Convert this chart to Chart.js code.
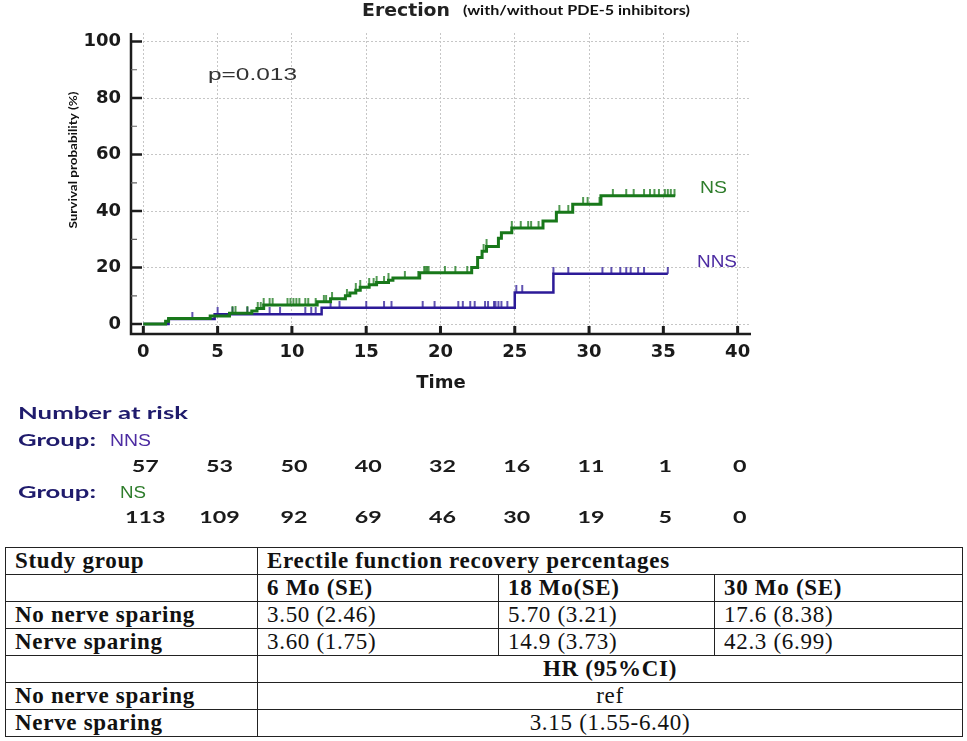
<!DOCTYPE html>
<html>
<head>
<meta charset="utf-8">
<title>Erection (with/without PDE-5 inhibitors)</title>
<script src="https://cdn.jsdelivr.net/npm/chart.js@4.4.1/dist/chart.umd.min.js"></script>
<style>
  body { margin: 0; background: #fff; width: 967px; height: 741px; overflow: hidden; position: relative; }
  #km { position: absolute; left: 0; top: 0; }
  #stats {
    position: absolute; left: 5px; top: 547px; width: 957px;
    border-collapse: collapse; table-layout: fixed;
    font-family: "Liberation Serif", "DejaVu Serif", serif; font-size: 23px; letter-spacing: 0.7px; color: #111;
  }
  #stats tr { height: 27px; }
  #stats td, #stats th { border: 1px solid #222; padding: 0 9px; white-space: nowrap; text-align: left; line-height: 24px; }
  #stats th { font-weight: bold; }
  #stats td { font-weight: normal; }
  #stats .c { text-align: center; }
</style>
</head>
<body>
<canvas id="km" width="967" height="540"></canvas>
<table id="stats"></table>
<script>
// axis ticks
const xTicks = [0, 5, 10, 15, 20, 25, 30, 35, 40];
const yTicks = [0, 20, 40, 60, 80, 100];
const yMinorTicks = [10, 30, 50, 70, 90];

// NS (nerve sparing) - step times and cumulative recovery (%)
const nsTimes = [0, 1.5, 1.7, 4.5, 5.8, 7.3, 7.65, 8.1, 11.7, 12.6, 13.6, 13.9, 14.3, 14.6, 15.2, 15.7, 16.5, 16.8, 18.6,
  22.1, 22.5, 22.8, 23.1, 23.9, 24.1, 24.8, 26.9, 27.8, 28.9, 30.8, 35.8];
const nsValues = [0, 1.0, 2.0, 2.9, 3.8, 4.6, 5.5, 6.8, 7.9, 9.0, 10.0, 11.0, 12.0, 13.0, 13.9, 14.7, 15.5, 16.3, 18.2,
  20.0, 23.6, 25.8, 27.5, 30.4, 32.3, 34.0, 36.5, 39.6, 42.4, 45.4, 45.4];
const nsCensored = [6.0, 6.2, 7.0, 7.7, 7.9, 8.1, 8.5, 8.7, 9.7, 9.9, 10.1, 10.3, 10.5, 10.9, 11.1, 11.6, 12.15, 12.3, 12.7,
  13.7, 14.3, 14.6, 15.2, 15.5, 15.7, 16.2, 16.5, 17.6, 18.5, 18.9, 19.0, 19.1, 19.2, 20.3, 21.0, 21.8, 22.9, 23.1,
  24.8, 25.4, 25.9, 26.1, 26.6, 28.0, 28.6, 29.6, 29.9, 30.7, 31.6, 32.5, 33.0, 33.7, 34.1, 34.4, 34.7, 35.1, 35.3, 35.5, 35.75];

// NNS (no nerve sparing)
const nnsTimes = [0, 1.7, 4.8, 12.0, 25.0, 27.6, 35.3];
const nnsValues = [0, 1.8, 3.5, 5.8, 11.2, 17.8, 17.8];
const nnsCensored = [3.3, 5.0, 6.0, 7.0, 8.5, 9.2, 10.9, 11.3, 11.6, 12.6, 13.2, 15.0, 16.2, 16.7, 18.8, 19.6,
  21.2, 21.5, 22.0, 22.3, 23.0, 23.2, 23.6, 23.7, 23.9, 24.1, 24.5, 25.1, 25.5, 27.6, 28.6,
  30.9, 31.5, 32.1, 32.5, 32.8, 33.3, 33.7, 35.3];

// number at risk at each x tick
const nnsAtRisk = [57, 53, 50, 40, 32, 16, 11, 1, 0];
const nsAtRisk = [113, 109, 92, 69, 46, 30, 19, 5, 0];

// table below the plot
const tableGroups = ["No nerve sparing", "Nerve sparing"];
const tableMonths = ["6 Mo (SE)", "18 Mo(SE)", "30 Mo (SE)"];
const nnsRecovery = ["3.50 (2.46)", "5.70 (3.21)", "17.6 (8.38)"];
const nsRecovery = ["3.60 (1.75)", "14.9 (3.73)", "42.3 (6.99)"];
const hazardRatios = ["ref", "3.15 (1.55-6.40)"];

const NS_COLOR = "#18781a";
const NNS_COLOR = "#2c1a98";
const NS_TEXT = "#2f7d2c";
const NNS_TEXT = "#4d2ca2";
const NAVY = "#1f1b6c";

function curvePoints(times, values) {
  return times.map((t, i) => ({ x: t, y: values[i] }));
}

function valueAt(times, values, t) {
  let v = values[0];
  times.forEach((tt, i) => { if (tt <= t) v = values[i]; });
  return v;
}

function censorPoints(times, values, censored) {
  return censored.map(t => ({ x: t, y: valueAt(times, values, t) }));
}

// small upward tick used as the censor mark
function censorMark(color) {
  const c = document.createElement("canvas");
  c.width = 4;
  c.height = 14;
  const g = c.getContext("2d");
  g.strokeStyle = color;
  g.lineWidth = 1.5;
  g.beginPath();
  g.moveTo(2, 0);
  g.lineTo(2, 7);
  g.stroke();
  return c;
}

// text fitted to a measured width (the original figure is stretched sideways)
function drawText(ctx, str, x, y, font, color, width, align = "left", rotate = 0) {
  ctx.save();
  ctx.font = font;
  ctx.fillStyle = color;
  ctx.textAlign = align;
  ctx.textBaseline = "middle";
  ctx.translate(x, y);
  if (rotate) ctx.rotate(rotate);
  if (width) ctx.scale(width / ctx.measureText(str).width, 1);
  ctx.fillText(str, 0, 0);
  ctx.restore();
}

const decorations = {
  id: "decorations",
  afterDraw(chart) {
    const { ctx, chartArea: a, scales: { x, y } } = chart;
    ctx.save();
    ctx.lineCap = "butt";

    // axes
    ctx.strokeStyle = "#1c1c1c";
    ctx.lineWidth = 2.5;
    ctx.beginPath();
    ctx.moveTo(a.left, a.top);
    ctx.lineTo(a.left, a.bottom);
    ctx.lineTo(a.right, a.bottom);
    ctx.stroke();

    // inner tick marks
    ctx.beginPath();
    yTicks.forEach(v => {
      const py = y.getPixelForValue(v);
      ctx.moveTo(a.left, py);
      ctx.lineTo(a.left + 11, py);
    });
    ctx.stroke();
    ctx.lineWidth = 3;
    ctx.beginPath();
    xTicks.forEach(v => {
      const px = x.getPixelForValue(v);
      ctx.moveTo(px, a.bottom);
      ctx.lineTo(px, a.bottom - 8);
    });
    ctx.stroke();
    ctx.strokeStyle = "#666";
    ctx.lineWidth = 1.2;
    ctx.beginPath();
    yMinorTicks.forEach(v => {
      const py = y.getPixelForValue(v);
      ctx.moveTo(a.left, py);
      ctx.lineTo(a.left + 6, py);
    });
    ctx.stroke();
    ctx.restore();

    // titles and labels
    drawText(ctx, "Erection", 362, 12, 'bold 17px "DejaVu Sans"', "#222", 88);
    drawText(ctx, "(with/without PDE-5 inhibitors)", 463, 11, "bold 13px Lato", "#111", 227);
    drawText(ctx, "Survival probability (%)", 73, 160, "bold 11px Lato", "#111", 137, "center", -Math.PI / 2);
    drawText(ctx, "p=0.013", 208, 75, '17px "Liberation Sans"', "#333", 89);
    drawText(ctx, "NS", 700, 188, '17px "Liberation Sans"', NS_TEXT, 27);
    drawText(ctx, "NNS", 697, 262, '17px "Liberation Sans"', NNS_TEXT, 40);

    // number at risk
    drawText(ctx, "Number at risk", 18, 414, "bold 17px Lato", NAVY, 170);
    drawText(ctx, "Group:", 18, 441, "bold 17px Lato", NAVY, 78);
    drawText(ctx, "NNS", 110, 442, '16px "Liberation Sans Narrow", "Liberation Sans"', NNS_TEXT, 41);
    drawText(ctx, "Group:", 18, 493, "bold 17px Lato", NAVY, 78);
    drawText(ctx, "NS", 120, 494, '16px "Liberation Sans Narrow", "Liberation Sans"', NS_TEXT, 26);
    xTicks.forEach((t, i) => {
      const px = x.getPixelForValue(t) + 2;
      const a1 = String(nnsAtRisk[i]);
      const a2 = String(nsAtRisk[i]);
      drawText(ctx, a1, px, 467, "bold 17px Lato", "#1a1a1a", a1.length * 13.5, "center");
      drawText(ctx, a2, px, 518, "bold 17px Lato", "#1a1a1a", a2.length * 13.5, "center");
    });
  }
};

const tickFont = { family: '"DejaVu Sans"', size: 18, weight: "bold" };

new Chart(document.getElementById("km"), {
  type: "line",
  data: {
    datasets: [
      {
        label: "NS",
        data: curvePoints(nsTimes, nsValues),
        borderColor: NS_COLOR,
        borderWidth: 3,
        stepped: true,
        pointRadius: 0,
        fill: false
      },
      {
        label: "NS censored",
        data: censorPoints(nsTimes, nsValues, nsCensored),
        showLine: false,
        pointStyle: censorMark(NS_COLOR),
        pointRadius: 3
      },
      {
        label: "NNS",
        data: curvePoints(nnsTimes, nnsValues),
        borderColor: NNS_COLOR,
        borderWidth: 2.5,
        stepped: true,
        pointRadius: 0,
        fill: false
      },
      {
        label: "NNS censored",
        data: censorPoints(nnsTimes, nnsValues, nnsCensored),
        showLine: false,
        pointStyle: censorMark(NNS_COLOR),
        pointRadius: 3
      }
    ]
  },
  options: {
    responsive: false,
    animation: false,
    layout: { padding: { left: 0, top: 33, right: 216, bottom: 140 } },
    plugins: {
      legend: { display: false },
      tooltip: { enabled: false }
    },
    scales: {
      x: {
        type: "linear",
        min: -0.83,
        max: 40.9,
        afterBuildTicks: s => { s.ticks = xTicks.map(v => ({ value: v })); },
        afterFit: s => { s.height = 66; },
        grid: { color: "#c6c6c6", lineWidth: 1, drawTicks: false },
        border: { display: false, dash: [2, 2] },
        ticks: { font: tickFont, color: "#1a1a1a", padding: 8, maxRotation: 0, autoSkip: false },
        title: {
          display: true,
          text: "Time",
          font: { family: '"DejaVu Sans"', size: 18, weight: "bold" },
          color: "#1a1a1a",
          padding: { top: 0, bottom: 6 }
        }
      },
      y: {
        min: -3.5,
        max: 103,
        afterBuildTicks: s => { s.ticks = yTicks.map(v => ({ value: v })); },
        afterFit: s => { s.width = 131; },
        grid: { color: "#c6c6c6", lineWidth: 1, drawTicks: false },
        border: { display: false, dash: [2, 2] },
        ticks: { font: tickFont, color: "#1a1a1a", padding: 10 }
      }
    }
  },
  plugins: [decorations]
});

// statistics table
let html = '<colgroup><col style="width:252px"><col style="width:241px"><col style="width:216px"><col style="width:248px"></colgroup>';
html += '<tr><th>Study group</th><th colspan="3">Erectile function recovery percentages</th></tr>';
html += "<tr><td></td>" + tableMonths.map(m => "<th>" + m + "</th>").join("") + "</tr>";
[nnsRecovery, nsRecovery].forEach((vals, i) => {
  html += "<tr><th>" + tableGroups[i] + "</th>" + vals.map(v => "<td>" + v + "</td>").join("") + "</tr>";
});
html += '<tr><td></td><th colspan="3" class="c">HR (95%CI)</th></tr>';
hazardRatios.forEach((v, i) => {
  html += "<tr><th>" + tableGroups[i] + '</th><td colspan="3" class="c">' + v + "</td></tr>";
});
document.getElementById("stats").innerHTML = html;
</script>
</body>
</html>
